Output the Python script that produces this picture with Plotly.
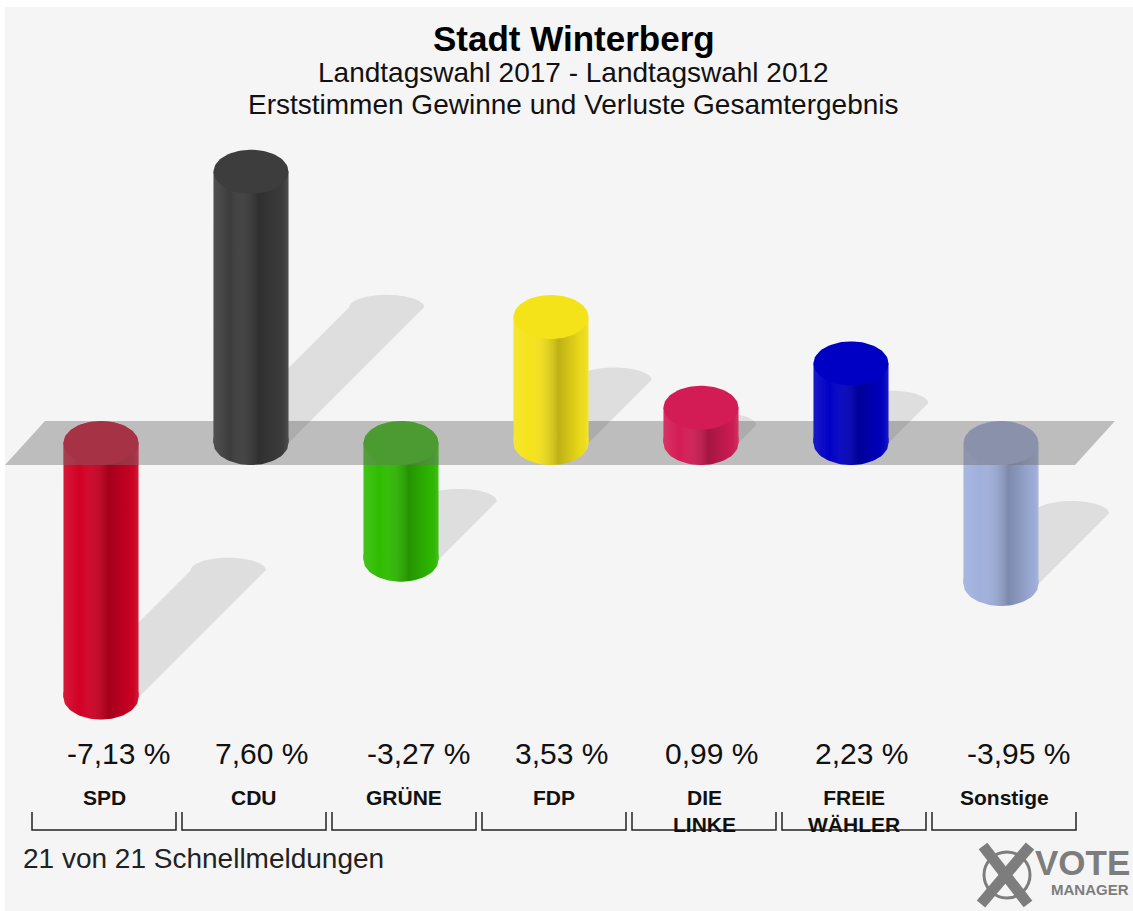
import numpy as np
import plotly.graph_objects as go

# ---------------- data ----------------
parties = ["SPD", "CDU", "GRÜNE", "FDP", "DIE LINKE", "FREIE WÄHLER", "Sonstige"]
party_labels = ["SPD", "CDU", "GRÜNE", "FDP", "DIE<br>LINKE", "FREIE<br>WÄHLER", "Sonstige"]
changes = [-7.13, 7.60, -3.27, 3.53, 0.99, 2.23, -3.95]
colors = ["#d10024", "#3d3d3d", "#2fbd00", "#f5e31a", "#d31c55", "#0000c4", "#a0b0dc"]
title = "Stadt Winterberg"
subtitle1 = "Landtagswahl 2017 - Landtagswahl 2012"
subtitle2 = "Erststimmen Gewinne und Verluste Gesamtergebnis"
footer = "21 von 21 Schnellmeldungen"

value_labels = [("%.2f" % v).replace(".", ",") + " %" for v in changes]

# ---------------- geometry (page pixels) ----------------
W, H = 1133, 911
PL, PR, PT, PB = 4, 1124, 130, 730           # plot area in pixels
X0PX, XSTEP = 101, 150                       # pixel of first category, spacing
ZERO_PX, PX_PER_PCT = 443, 35.7
XR = [(PL - X0PX) / XSTEP, (PR - X0PX) / XSTEP]
YR = [-(PB - ZERO_PX) / PX_PER_PCT, (ZERO_PX - PT) / PX_PER_PCT]
HW = 0.25                                    # half bar width (category units)
CAP = 22 / PX_PER_PCT                        # ellipse half height (in %)
FONT = "Liberation Sans, Arial, Helvetica, sans-serif"


def xp(px):
    return (px - PL) / (PR - PL)


def yp(py):
    return (PB - py) / (PB - PT)


def xd(px):
    return (px - X0PX) / XSTEP


def arc(xc, yc, t0, t1, ry=CAP, rx=HW, n=40):
    t = np.linspace(t0, t1, n)
    return list(xc + rx * np.cos(t)), list(yc + ry * np.sin(t))


fig = go.Figure()

# bar bodies
fig.add_trace(go.Bar(
    x=list(range(len(parties))), y=changes, width=2 * HW,
    marker=dict(color=colors, line=dict(width=0)),
    hoverinfo="skip", showlegend=False,
))

lab_kw = dict(mode="lines", line=dict(width=0), hoverinfo="skip", showlegend=False)

# bottom caps (overlapping the body slightly to avoid a seam)
for i, (v, c) in enumerate(zip(changes, colors)):
    yb = min(v, 0)
    ax, ay = arc(i, yb, np.pi, 2 * np.pi)
    xs = ax + [i + HW, i - HW, ax[0]]
    ys = ay + [yb + 0.15, yb + 0.15, ay[0]]
    fig.add_trace(go.Scatter(x=xs, y=ys, fill="toself", fillcolor=c, **lab_kw))

# cylinder shading
shade = [[0.0, "rgba(255,255,255,0.10)"], [0.22, "rgba(255,255,255,0.0)"],
         [0.6, "rgba(0,0,0,0.22)"], [0.9, "rgba(0,0,0,0.04)"],
         [1.0, "rgba(255,255,255,0.10)"]]
for i, v in enumerate(changes):
    yb, yt = min(v, 0), max(v, 0)
    ax, ay = arc(i, yb, np.pi, 2 * np.pi)
    xs = [i - HW] + ax + [i + HW, i - HW]
    ys = [yt] + ay + [yt, yt]
    fig.add_trace(go.Scatter(x=xs, y=ys, fill="toself",
                             fillgradient=dict(type="horizontal", colorscale=shade),
                             **lab_kw))

# top faces
for i, (v, c) in enumerate(zip(changes, colors)):
    yt = max(v, 0)
    ax, ay = arc(i, yt, 0, 2 * np.pi, n=80)
    fig.add_trace(go.Scatter(x=ax, y=ay, fill="toself", fillcolor=c, **lab_kw))

# band passing in front of negative bars
for i, v in enumerate(changes):
    if v < 0:
        ax, ay = arc(i, 0, np.pi, 0)
        xs = ax + [i + HW, i - HW, ax[0]]
        ys = ay + [-CAP, -CAP, ay[0]]
        fig.add_trace(go.Scatter(x=xs, y=ys, fill="toself",
                                 fillcolor="rgba(110,110,110,0.45)", **lab_kw))

shapes = []
# page background with thin white border top/left
shapes.append(dict(type="rect", xref="paper", yref="paper", layer="below",
                   x0=xp(5), x1=xp(W + 5), y0=yp(7), y1=yp(H + 5),
                   fillcolor="#f5f5f5", line=dict(width=0)))


def path(xs, ys):
    s = "M %f,%f " % (xs[0], ys[0])
    s += " ".join("L %f,%f" % (a, b) for a, b in zip(xs[1:], ys[1:]))
    return s + " Z"


# zero band (parallelogram)
bx = [xd(5), xd(1075), xd(1115), xd(45)]
by = [-CAP, -CAP, CAP, CAP]
shapes.append(dict(type="path", xref="x", yref="y", layer="below",
                   path=path(bx, by), fillcolor="#bdbdbd", line=dict(width=0)))

# shadows
for i, v in enumerate(changes):
    L = abs(v)
    yb = min(v, 0)
    dy = 0.5 * L
    dx = 0.5 * L * PX_PER_PCT / XSTEP
    ax, ay = arc(i + dx, yb + dy, 0, np.pi, ry=0.35)
    xs = [i - HW, i + HW] + ax
    ys = [yb, yb] + ay
    shapes.append(dict(type="path", xref="x", yref="y", layer="below",
                       path=path(xs, ys), fillcolor="rgba(0,0,0,0.09)",
                       line=dict(width=0)))

# brackets under categories
for i in range(len(parties)):
    l, r = 32 + XSTEP * i, 176 + XSTEP * i
    shapes.append(dict(type="path", xref="paper", yref="paper",
                       path="M %f,%f L %f,%f L %f,%f L %f,%f" % (
                           xp(l), yp(812), xp(l), yp(830), xp(r), yp(830), xp(r), yp(812)),
                       line=dict(color="#222222", width=1.5)))

# logo X mark
LOGO = "#7d7d7d"
shapes.append(dict(type="line", xref="paper", yref="paper", x0=xp(983), y0=yp(846),
                   x1=xp(1028), y1=yp(904), line=dict(color=LOGO, width=11)))
shapes.append(dict(type="line", xref="paper", yref="paper", x0=xp(1030), y0=yp(846),
                   x1=xp(981), y1=yp(904), line=dict(color=LOGO, width=11)))
shapes.append(dict(type="circle", xref="paper", yref="paper", x0=xp(984), y0=yp(852),
                   x1=xp(1030), y1=yp(898), line=dict(color=LOGO, width=3)))

annotations = []


def txt(text, x, y, size, bold=False, color="#111111", xanchor="center", xref="paper",
        xshift=0, yanchor="middle"):
    annotations.append(dict(
        text="<b>%s</b>" % text if bold else text, x=x, y=y, xref=xref, yref="paper",
        xanchor=xanchor, yanchor=yanchor, showarrow=False, xshift=xshift,
        font=dict(family=FONT, size=size, color=color)))


txt(title, xp(574), yp(38), 35, bold=True, color="#000000")
txt(subtitle1, xp(573), yp(72), 28)
txt(subtitle2, xp(573), yp(105), 28)

for i, (lab, vl, v) in enumerate(zip(party_labels, value_labels, changes)):
    txt(vl, i, yp(753), 30, xref="x", xshift=(17 if v < 0 else 10))
    txt(lab, i, yp(784), 21, bold=True, xref="x", xshift=3, yanchor="top")

txt(footer, xp(21), yp(858), 28, xanchor="left", color="#222222")
txt("VOTE", xp(1132), yp(862), 35, bold=True, color=LOGO, xanchor="right")
txt("MANAGER", xp(1131), yp(889), 15, bold=True, color=LOGO, xanchor="right")

fig.update_layout(
    width=W, height=H,
    margin=dict(l=PL, r=W - PR, t=PT, b=H - PB, pad=0),
    paper_bgcolor="#ffffff", plot_bgcolor="rgba(0,0,0,0)",
    barmode="overlay", showlegend=False,
    xaxis=dict(range=XR, visible=False, fixedrange=True),
    yaxis=dict(range=YR, visible=False, fixedrange=True),
    shapes=shapes, annotations=annotations,
)

fig.write_html(
    "out.html",
    config={"displayModeBar": False},
    post_script="document.body.style.margin='0';document.body.style.overflow='hidden';",
)
